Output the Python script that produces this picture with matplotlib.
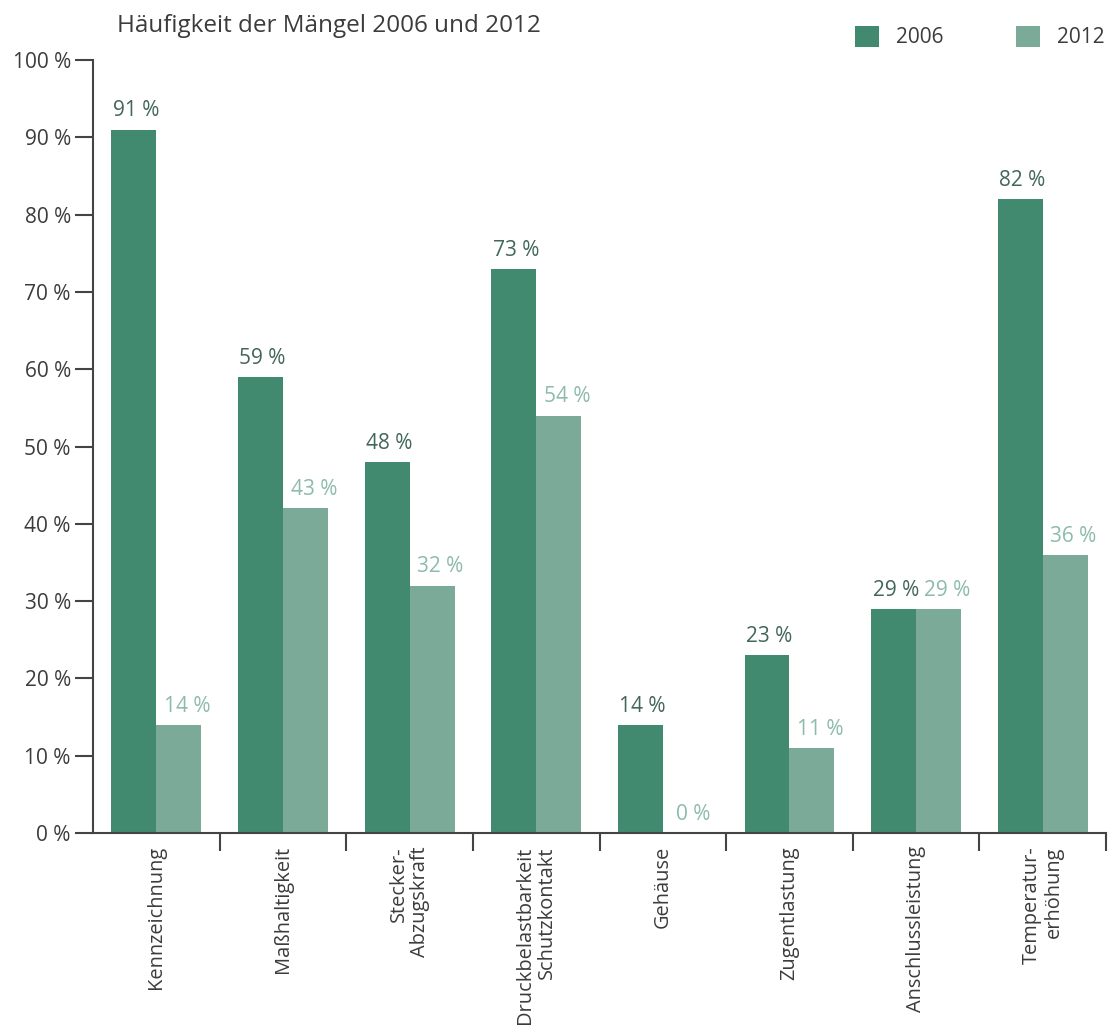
import numpy as np
import matplotlib
matplotlib.use("Agg")
import matplotlib.pyplot as plt

categories = ["Kennzeichnung", "Maßhaltigkeit", "Stecker-\nAbzugskraft",
              "Druckbelastbarkeit\nSchutzkontakt", "Gehäuse", "Zugentlastung",
              "Anschlussleistung", "Temperatur-\nerhöhung"]
values_2006 = [91, 59, 48, 73, 14, 23, 29, 82]
values_2012 = [14, 42, 32, 54, 0, 11, 29, 36]
labels_2006 = ["91 %", "59 %", "48 %", "73 %", "14 %", "23 %", "29 %", "82 %"]
labels_2012 = ["14 %", "43 %", "32 %", "54 %", "0 %", "11 %", "29 %", "36 %"]
yticks = [0, 10, 20, 30, 40, 50, 60, 70, 80, 90, 100]

col_2006 = "#418a70"
col_2012 = "#7baa98"
txt_2006 = "#42665a"
txt_2012 = "#8dbbab"
gray = "#3c3c3c"

plt.rcParams['font.family'] = ['Open Sans', 'DejaVu Sans']

fig = plt.figure(figsize=(11.09, 10.26), dpi=100)
ax = fig.add_axes([0.0839, 0.1881, 0.9134, 0.7534])

x = np.arange(len(categories))
w = 0.355
ax.bar(x - w / 2, values_2006, w, color=col_2006, label="2006")
ax.bar(x + w / 2, values_2012, w, color=col_2012, label="2012")

for i in range(len(categories)):
    ax.annotate(labels_2006[i], (x[i] - w / 2, values_2006[i]), xytext=(1.5, 9.5),
                textcoords="offset points", ha="center", va="baseline",
                fontsize=15, color=txt_2006)
    ax.annotate(labels_2012[i], (x[i] + w / 2, values_2012[i]), xytext=(6, 9.5),
                textcoords="offset points", ha="center", va="baseline",
                fontsize=15, color=txt_2012)

ax.set_xlim(-0.5, 7.48)
ax.set_ylim(0, 100)
ax.set_yticks(yticks)
ax.set_yticklabels([f"{t} %" for t in yticks], fontsize=15, color=gray)
ax.set_xticks(x)
ax.set_xticklabels(categories, rotation=90, fontsize=14.4, color=gray,
                   va="top", ha="center", multialignment="right", linespacing=1.1)
ax.set_xticks(list(x + 0.5), minor=True)
ax.tick_params(axis="x", which="major", length=0, pad=9.5)
ax.tick_params(axis="x", which="minor", length=13, width=1.5, color="#444444", direction="out")
ax.tick_params(axis="y", length=13, width=1.5, color="#444444", pad=3)

for s in ["top", "right"]:
    ax.spines[s].set_visible(False)
for s in ["left", "bottom"]:
    ax.spines[s].set_linewidth(1.5)
    ax.spines[s].set_color("#444444")

fig.text(0.1055, 0.975, "Häufigkeit der Mängel 2006 und 2012", fontsize=17.5,
         color=gray, ha="left", va="center")

fig.legend(loc="upper right", bbox_to_anchor=(1.0126, 0.993), ncol=2, frameon=False,
           fontsize=15, handlelength=1.15, handleheight=1.15, columnspacing=3.5,
           handletextpad=0.8, labelcolor=gray)

fig.savefig("out.png", dpi=100)
